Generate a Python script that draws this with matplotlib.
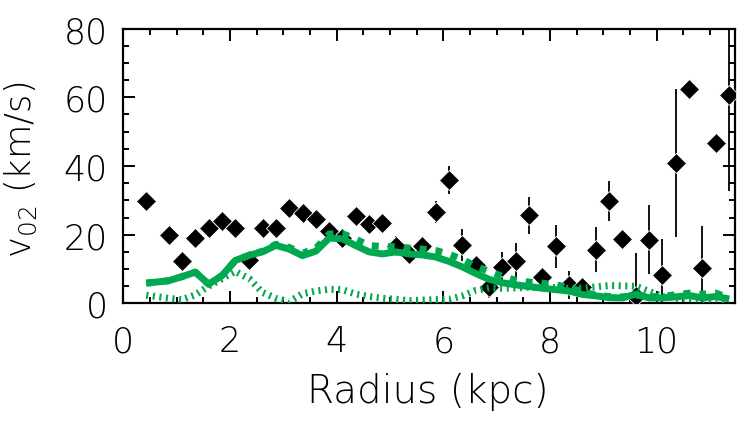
import matplotlib
matplotlib.use("Agg")
import matplotlib.pyplot as plt
from matplotlib.ticker import MultipleLocator

plt.rcParams['font.family'] = ['DejaVu Sans']
plt.rcParams['font.weight'] = 'light'
plt.rcParams['axes.labelweight'] = 'light'
plt.rcParams['mathtext.fontset'] = 'custom'
plt.rcParams['mathtext.rm'] = 'DejaVu Sans:light'

# Radii (kpc)
radius = [0.43, 0.85, 1.10, 1.35, 1.60, 1.85, 2.10, 2.36, 2.61, 2.86, 3.11, 3.36,
          3.61, 3.86, 4.11, 4.36, 4.61, 4.86, 5.11, 5.36, 5.61, 5.86, 6.11, 6.36,
          6.61, 6.86, 7.11, 7.36, 7.61, 7.86, 8.11, 8.36, 8.61, 8.86, 9.11, 9.36,
          9.61, 9.86, 10.11, 10.36, 10.61, 10.86, 11.11, 11.36]

# measured v02 (km/s)
v02 = [29.9, 19.9, 12.4, 19.0, 21.9, 23.9, 21.9, 12.7, 21.9, 21.9, 27.8, 26.2,
       24.6, 21.1, 19.0, 25.3, 23.1, 23.4, 16.7, 14.4, 16.8, 26.6, 35.9, 17.0,
       11.2, 4.7, 10.5, 12.4, 25.6, 7.6, 16.6, 5.4, 4.8, 15.6, 29.9, 18.7,
       2.1, 18.5, 8.3, 40.8, 62.4, 10.2, 46.7, 60.7]

v02_err = [1.5, 1.5, 1.5, 1.5, 1.5, 1.5, 1.5, 1.5, 1.5, 1.5, 1.5, 1.5,
           1.5, 1.5, 1.5, 1.5, 1.5, 1.5, 2.9, 2.5, 1.5, 3.2, 4.2, 4.7,
           2.0, 3.0, 4.4, 5.3, 5.5, 2.0, 6.3, 4.1, 2.0, 6.5, 5.8, 2.0,
           12.5, 10.0, 10.3, 21.5, 2.0, 12.2, 2.0, 28.0]

# model curves (km/s)
model_solid = [5.9, 6.6, 7.8, 9.1, 5.6, 8.1, 12.5, 14.0, 15.0, 16.9, 15.8, 13.9,
               15.2, 19.0, 18.8, 16.8, 15.0, 14.4, 15.0, 14.4, 14.1, 13.5, 12.2, 10.6,
               8.7, 7.0, 6.0, 5.4, 4.9, 4.4, 4.0, 3.6, 2.6, 2.2, 1.7, 1.6,
               2.7, 1.6, 1.6, 1.9, 2.3, 1.6, 2.0, 1.3]

model_dashed = [5.9, 6.6, 7.8, 9.1, 5.6, 8.1, 12.5, 14.0, 15.2, 17.2, 16.3, 14.6,
                16.0, 20.2, 20.3, 18.7, 16.8, 16.6, 16.5, 16.1, 15.8, 15.4, 14.3, 12.8,
                10.8, 9.3, 7.9, 6.7, 6.2, 5.9, 5.4, 4.6, 3.4, 2.4, 2.0, 1.9,
                2.4, 1.9, 2.1, 2.5, 3.0, 2.7, 3.0, 1.5]

model_dotted = [2.4, 1.5, 1.1, 2.5, 5.0, 7.2, 9.3, 7.2, 3.2, 1.5, 0.5, 2.8,
                3.6, 4.1, 4.0, 2.7, 2.0, 1.5, 1.2, 0.8, 1.0, 1.1, 1.2, 2.2,
                3.8, 4.5, 4.4, 4.5, 4.7, 4.7, 4.6, 4.4, 4.5, 4.8, 5.2, 5.1,
                5.0, 3.5, 2.0, 1.5, 1.4, 1.2, 1.3, 1.0]

GREEN = '#00A84F'

fig = plt.figure(figsize=(7.47, 4.27), dpi=100)
ax = fig.add_axes([0.1651, 0.2871, 0.8188, 0.6438])

ax.errorbar(radius, v02, yerr=v02_err, fmt='none', ecolor='black',
            elinewidth=1.3, capsize=0, zorder=2)
ax.plot(radius, v02, linestyle='none', marker='D', markersize=10,
        markerfacecolor='black', markeredgecolor='white', markeredgewidth=0.6,
        zorder=3)

ld, = ax.plot(radius, model_dotted, color=GREEN, lw=5, solid_capstyle='butt',
              dash_capstyle='butt', zorder=4)
ld.set_dashes((0.3, 0.65))
ax.plot(radius, model_solid, color=GREEN, lw=5, solid_capstyle='butt', zorder=5)
lq, = ax.plot(radius, model_dashed, color=GREEN, lw=5, dash_capstyle='butt', zorder=6)
lq.set_dashes((1.0, 1.3))

ax.set_xlim(0, 11.47)
ax.set_ylim(0, 80)
ax.xaxis.set_major_locator(MultipleLocator(2))
ax.xaxis.set_minor_locator(MultipleLocator(0.5))
ax.yaxis.set_major_locator(MultipleLocator(20))
ax.yaxis.set_minor_locator(MultipleLocator(5))

ax.tick_params(which='both', direction='in', top=True, right=True, width=1.4,
               labelsize=25, color='black', labelcolor='black')
ax.tick_params(which='major', length=8.6)
ax.tick_params(which='minor', length=4.3)
ax.tick_params(axis='x', which='major', pad=15)
ax.tick_params(axis='y', which='major', pad=11)
for s in ax.spines.values():
    s.set_linewidth(1.6)

ax.set_xlabel('Radius (kpc)', fontsize=28, fontweight='light')
ax.set_ylabel(r'v$_{\mathregular{02}}$ (km/s)', fontsize=25.5, fontweight='light')
ax.xaxis.set_label_coords(0.498, -0.319)
ax.yaxis.set_label_coords(-0.167, 0.489)
ax.xaxis.label.set_va('center')
ax.yaxis.label.set_va('center')
ax.yaxis.label.set_ha('center')

fig.savefig('out.png', dpi=100)
